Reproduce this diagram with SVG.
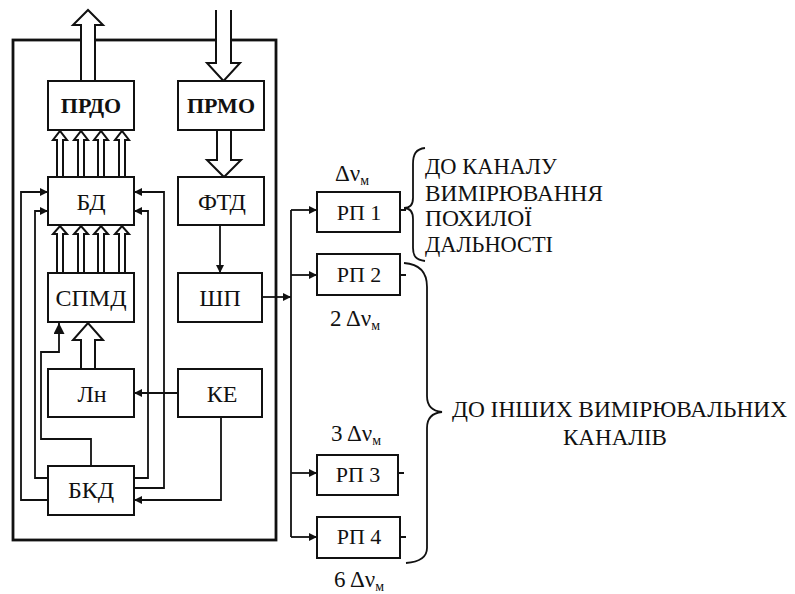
<svg xmlns="http://www.w3.org/2000/svg" width="795" height="594" viewBox="0 0 795 594">
<style>
.box{fill:#fff;stroke:#111;stroke-width:2}
.lbl{font-family:"Liberation Serif","DejaVu Serif",serif;font-size:24px;fill:#111;text-anchor:middle}
.b{font-weight:bold;font-size:22px}
.rp{font-size:22px}
.ln{fill:none;stroke:#111;stroke-width:1.8}
.ha{fill:#fff;stroke:#111;stroke-width:2;stroke-linejoin:miter}
.txt{font-family:"Liberation Serif","DejaVu Serif",serif;font-size:23px;fill:#111}
.dv{font-family:"Liberation Serif","DejaVu Serif",serif;font-size:23px;fill:#111}
.sub{font-size:14px}
</style>
<defs>
<marker id="ah" viewBox="0 0 10 10" refX="10" refY="5" markerWidth="9" markerHeight="8" markerUnits="userSpaceOnUse" orient="auto">
<path d="M0,0 L10,5 L0,10 z" fill="#111"/>
</marker>
<marker id="ahb" viewBox="0 0 10 10" refX="10" refY="5" markerWidth="11" markerHeight="11" markerUnits="userSpaceOnUse" orient="auto">
<path d="M0,0 L10,5 L0,10 z" fill="#111"/>
</marker>
</defs>
<rect x="13" y="40" width="263" height="500" fill="none" stroke="#111" stroke-width="2.8"/>
<g id="connectors">
<path class="ha" d="M81,81 V25 H73 L88,10 L103,25 H95 V81"/>
<path class="ha" d="M216,10 V63 H207 L223.5,81 L240,63 H231 V10"/>
<path class="ha" d="M217,130 V160 H207 L224,177 L241,160 H231 V130"/>
<path class="ha" d="M81,369 V340 H73 L88,323 L103,340 H95 V369"/>
<path class="ha" d="M57,177 V140 H53 L60,131 L67,140 H63 V177"/>
<path class="ha" d="M78,177 V140 H74 L81,131 L88,140 H84 V177"/>
<path class="ha" d="M98,177 V140 H94 L101,131 L108,140 H104 V177"/>
<path class="ha" d="M119,177 V140 H115 L122,131 L129,140 H125 V177"/>
<path class="ha" d="M57,273 V234 H53 L60,226 L67,234 H63 V273"/>
<path class="ha" d="M78,273 V234 H74 L81,226 L88,234 H84 V273"/>
<path class="ha" d="M98,273 V234 H94 L101,226 L108,234 H104 V273"/>
<path class="ha" d="M119,273 V234 H115 L122,226 L129,234 H125 V273"/>
<path class="ln" d="M220,225 V273" marker-end="url(#ah)"/>
<path class="ln" d="M262,297 H291" marker-end="url(#ah)"/>
<path class="ln" d="M291,210 V537"/>
<path class="ln" d="M291,210 H317" marker-end="url(#ah)"/>
<path class="ln" d="M291,275 H317" marker-end="url(#ah)"/>
<path class="ln" d="M291,473 H317" marker-end="url(#ah)"/>
<path class="ln" d="M291,537 H317" marker-end="url(#ah)"/>
<path class="ln" d="M400,210 H406 M400,275 H406 M398,473 H404 M400,537 H406"/>
<path class="ln" d="M178,393 H134" marker-end="url(#ah)"/>
<path class="ln" d="M221,417 V500 H134" marker-end="url(#ah)"/>
<path class="ln" d="M48,500 H21 V192 H48" marker-end="url(#ah)"/>
<path class="ln" d="M48,478 H35 V211 H48" marker-end="url(#ah)"/>
<path class="ln" d="M134,478 H148 V211 H134" marker-end="url(#ah)"/>
<path class="ln" d="M134,488 H164 V192 H134" marker-end="url(#ah)"/>
<path class="ln" d="M91,466 V439 H41 V352 H59 V323" marker-end="url(#ahb)"/>
</g>
<g id="PRDO"><rect class="box" x="48" y="81" width="86" height="49"/><text class="lbl b" x="91" y="113">ПРДО</text></g>
<g id="PRMO"><rect class="box" x="178" y="81" width="86" height="49"/><text class="lbl b" x="221" y="113">ПРМО</text></g>
<g id="BD"><rect class="box" x="48" y="177" width="86" height="48"/><text class="lbl" x="91" y="210">БД</text></g>
<g id="FTD"><rect class="box" x="178" y="177" width="86" height="48"/><text class="lbl" x="222" y="210">ФТД</text></g>
<g id="SPMD"><rect class="box" x="48" y="273" width="86" height="49"/><text class="lbl" x="91" y="306">СПМД</text></g>
<g id="ShP"><rect class="box" x="178" y="273" width="84" height="49"/><text class="lbl" x="220" y="306">ШП</text></g>
<g id="Ln"><rect class="box" x="48" y="369" width="86" height="48"/><text class="lbl" x="92" y="402">Лн</text></g>
<g id="KE"><rect class="box" x="178" y="369" width="84" height="48"/><text class="lbl" x="222" y="402">КЕ</text></g>
<g id="BKD"><rect class="box" x="48" y="466" width="86" height="49"/><text class="lbl" x="91" y="498">БКД</text></g>
<g id="RP1"><rect class="box" x="317" y="192" width="83" height="40"/><text class="lbl rp" x="359" y="220">РП 1</text></g>
<g id="RP2"><rect class="box" x="317" y="254" width="83" height="41"/><text class="lbl rp" x="359" y="282">РП 2</text></g>
<g id="RP3"><rect class="box" x="317" y="455" width="81" height="40"/><text class="lbl rp" x="358" y="482">РП 3</text></g>
<g id="RP4"><rect class="box" x="317" y="517" width="83" height="41"/><text class="lbl rp" x="359" y="544">РП 4</text></g>
<g id="labels">
<text class="dv" x="335" y="181">Δν<tspan class="sub" dy="4">м</tspan></text>
<text class="dv" x="330" y="326">2 Δν<tspan class="sub" dy="4">м</tspan></text>
<text class="dv" x="331" y="441">3 Δν<tspan class="sub" dy="4">м</tspan></text>
<text class="dv" x="334" y="587">6 Δν<tspan class="sub" dy="4">м</tspan></text>
<path class="ln" d="M425,148 C416,149 413,154 413,164 V198 C413,205 410,208 404,208 C410,208 413,212 413,219 V248 C413,256 416,260 425,261"/>
<text class="txt" x="425" y="174" textLength="132" lengthAdjust="spacingAndGlyphs">ДО КАНАЛУ</text>
<text class="txt" x="425" y="201" textLength="178" lengthAdjust="spacingAndGlyphs">ВИМІРЮВАННЯ</text>
<text class="txt" x="425" y="226" textLength="107" lengthAdjust="spacingAndGlyphs">ПОХИЛОЇ</text>
<text class="txt" x="425" y="252" textLength="128" lengthAdjust="spacingAndGlyphs">ДАЛЬНОСТІ</text>
<path class="ln" d="M404,263 C419,264 427,271 427,287 V396 C427,406 432,411 442,412 C432,413 427,418 427,428 V548 C427,558 419,562 406,563"/>
<text class="txt" x="452" y="417" textLength="335" lengthAdjust="spacingAndGlyphs">ДО ІНШИХ ВИМІРЮВАЛЬНИХ</text>
<text class="txt" x="563" y="445" textLength="104" lengthAdjust="spacingAndGlyphs">КАНАЛІВ</text>
</g>
</svg>
